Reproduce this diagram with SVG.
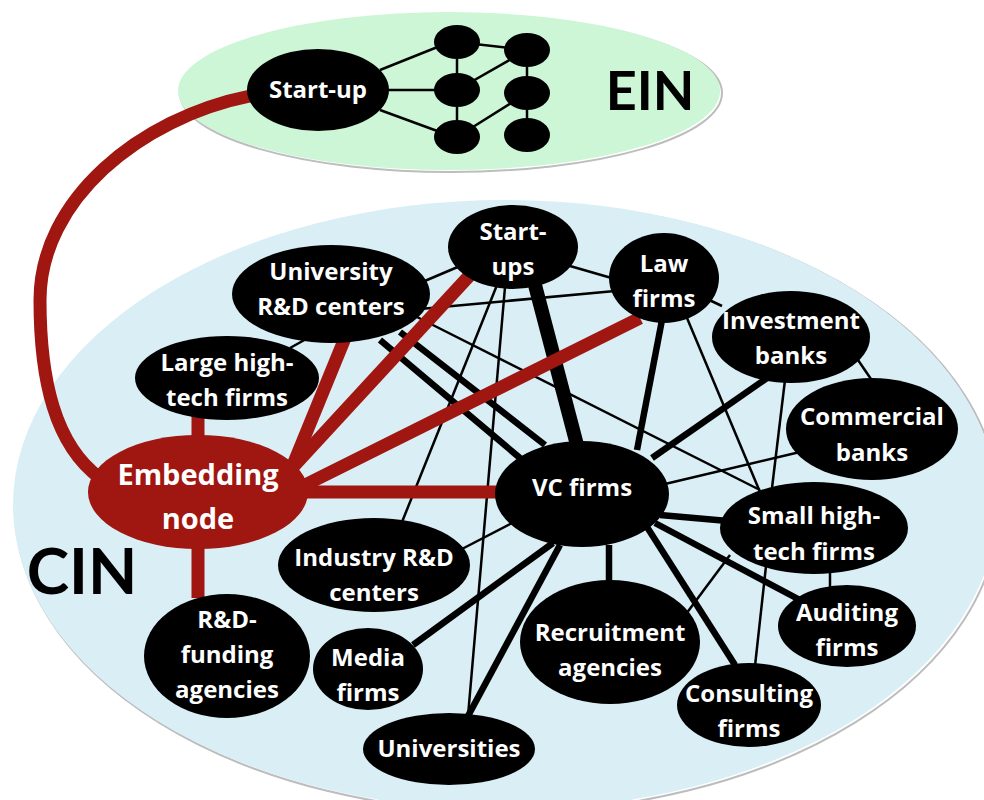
<svg xmlns="http://www.w3.org/2000/svg" width="984" height="800" viewBox="0 0 984 800">
<style>
.bg{fill:#ffffff}
.cin{fill:#d9eef5}
.ein{fill:#ccf6d6}
.shadow{fill:none;stroke:#bdbdbd;stroke-width:2}
.n{fill:#000000}
.emb{fill:#a01610}
.t{fill:#ffffff;font-family:"Open Sans",Lato,"Liberation Sans",sans-serif;font-weight:700;font-size:24px;text-anchor:middle}
.t29{font-size:29px}
.big{fill:#000000;font-family:Lato,"Open Sans","Liberation Sans",sans-serif;font-weight:700;text-anchor:middle}
.e1{stroke:#000;stroke-width:2.5;fill:none}
.e2{stroke:#000;stroke-width:6.5;fill:none}
.e3{stroke:#000;stroke-width:14;fill:none}
.r{stroke:#a01610;stroke-width:13;fill:none}
</style>
<rect class="bg" x="0" y="0" width="984" height="800"/>
<g id="cin-area">
<ellipse class="shadow" cx="507" cy="507" rx="492" ry="305"/>
<ellipse class="cin" cx="505" cy="505" rx="492" ry="305"/>
<text class="big" x="82" y="594" font-size="64">CIN</text>
</g>
<g id="ein-area">
<ellipse class="shadow" cx="451" cy="93" rx="271" ry="79"/>
<ellipse class="ein" cx="449" cy="91" rx="271" ry="79"/>
<text class="big" x="650" y="110" font-size="54">EIN</text>
</g>
<g id="connectors">
<g id="ein-edges">
<line class="e1" x1="380" y1="70" x2="440" y2="46"/>
<line class="e1" x1="385" y1="90" x2="440" y2="90"/>
<line class="e1" x1="380" y1="110" x2="440" y2="132"/>
<line class="e1" x1="457" y1="42" x2="457" y2="90"/>
<line class="e1" x1="457" y1="90" x2="457" y2="137"/>
<line class="e1" x1="457" y1="42" x2="527" y2="50"/>
<line class="e1" x1="457" y1="90" x2="527" y2="50"/>
<line class="e1" x1="527" y1="50" x2="527" y2="93"/>
<line class="e1" x1="457" y1="137" x2="527" y2="93"/>
<line class="e1" x1="527" y1="93" x2="527" y2="135"/>
</g>
<g id="cin-thin">
<line class="e1" x1="420" y1="283" x2="460" y2="266"/>
<line class="e1" x1="420" y1="309" x2="615" y2="291"/>
<line class="e1" x1="290" y1="348" x2="308" y2="338"/>
<line class="e1" x1="415" y1="316" x2="760" y2="490"/>
<line class="e1" x1="570" y1="266" x2="615" y2="279"/>
<line class="e1" x1="497" y1="285" x2="402" y2="522"/>
<line class="e1" x1="505" y1="287" x2="468" y2="716"/>
<line class="e1" x1="705" y1="298" x2="722" y2="306"/>
<line class="e1" x1="687" y1="318" x2="760" y2="492"/>
<line class="e1" x1="858" y1="360" x2="873" y2="382"/>
<line class="e1" x1="785" y1="380" x2="772" y2="488"/>
<line class="e1" x1="800" y1="452" x2="665" y2="484"/>
<line class="e1" x1="512" y1="523" x2="460" y2="550"/>
<line class="e1" x1="830" y1="570" x2="830" y2="590"/>
<line class="e1" x1="766" y1="566" x2="755" y2="666"/>
<line class="e1" x1="730" y1="555" x2="686" y2="614"/>
</g>
<g id="cin-thick">
<line class="e2" x1="380" y1="340" x2="520" y2="458"/>
<line class="e2" x1="400" y1="332" x2="545" y2="445"/>
<line class="e2" x1="662" y1="320" x2="637" y2="450"/>
<line class="e2" x1="767" y1="378" x2="652" y2="458"/>
<line class="e2" x1="660" y1="515" x2="728" y2="521"/>
<line class="e2" x1="655" y1="523" x2="800" y2="600"/>
<line class="e2" x1="647" y1="527" x2="735" y2="665"/>
<line class="e2" x1="609" y1="545" x2="609" y2="585" stroke-width="8"/>
<line class="e2" x1="553" y1="543" x2="413" y2="645"/>
<line class="e2" x1="560" y1="545" x2="468" y2="716"/>
<line class="e3" x1="535" y1="285" x2="577" y2="445"/>
</g>
<g id="red-edges">
<path class="r" d="M 250,96 C 140,118 40,200 40,300 C 40,380 55,445 100,478"/>
<line class="r" x1="198" y1="415" x2="198" y2="440"/>
<line class="r" x1="198" y1="545" x2="198" y2="598"/>
<line class="r" x1="293" y1="465" x2="345" y2="338"/>
<line class="r" x1="292" y1="468" x2="470" y2="275"/>
<line class="r" x1="305" y1="485" x2="640" y2="318"/>
<line class="r" x1="300" y1="492" x2="500" y2="492"/>
</g>
</g>
<g id="ein-startup"><ellipse class="n" cx="318" cy="90" rx="71" ry="41"/><text class="t" x="318" y="98">Start-up</text></g>
<g id="ein-n1"><ellipse class="n" cx="457" cy="42" rx="23" ry="17"/></g>
<g id="ein-n2"><ellipse class="n" cx="527" cy="50" rx="23" ry="17"/></g>
<g id="ein-n3"><ellipse class="n" cx="457" cy="90" rx="23" ry="17"/></g>
<g id="ein-n4"><ellipse class="n" cx="527" cy="93" rx="23" ry="17"/></g>
<g id="ein-n5"><ellipse class="n" cx="457" cy="137" rx="23" ry="17"/></g>
<g id="ein-n6"><ellipse class="n" cx="527" cy="135" rx="23" ry="17"/></g>

<g id="startups"><ellipse class="n" cx="513" cy="247" rx="65" ry="42"/><text class="t" x="513" y="240">Start-</text><text class="t" x="513" y="275">ups</text></g>
<g id="univ-rd"><ellipse class="n" cx="331" cy="294" rx="99" ry="49"/><text class="t" x="331" y="280">University</text><text class="t" x="331" y="315">R&amp;D centers</text></g>
<g id="law"><ellipse class="n" cx="664" cy="278" rx="55" ry="45"/><text class="t" x="664" y="272">Law</text><text class="t" x="664" y="307">firms</text></g>
<g id="investment"><ellipse class="n" cx="791" cy="337" rx="79" ry="46"/><text class="t" x="791" y="329">Investment</text><text class="t" x="791" y="364">banks</text></g>
<g id="large-hightech"><ellipse class="n" cx="227" cy="378" rx="92" ry="42"/><text class="t" x="227" y="371">Large high-</text><text class="t" x="227" y="406">tech firms</text></g>
<g id="commercial"><ellipse class="n" cx="872" cy="429" rx="86" ry="51"/><text class="t" x="872" y="425">Commercial</text><text class="t" x="872" y="461">banks</text></g>
<g id="embedding"><ellipse class="emb" cx="198" cy="492" rx="110" ry="57"/><text class="t t29" x="198" y="485">Embedding</text><text class="t t29" x="198" y="529">node</text></g>
<g id="vc"><ellipse class="n" cx="582" cy="494" rx="87" ry="53"/><text class="t" x="582" y="496">VC firms</text></g>
<g id="small-hightech"><ellipse class="n" cx="814" cy="528" rx="94" ry="46"/><text class="t" x="814" y="524">Small high-</text><text class="t" x="814" y="560">tech firms</text></g>
<g id="industry-rd"><ellipse class="n" cx="374" cy="565" rx="96" ry="47"/><text class="t" x="374" y="566">Industry R&amp;D</text><text class="t" x="374" y="601">centers</text></g>
<g id="rd-funding"><ellipse class="n" cx="227" cy="656" rx="83" ry="62"/><text class="t" x="227" y="628">R&amp;D-</text><text class="t" x="227" y="663">funding</text><text class="t" x="227" y="698">agencies</text></g>
<g id="media"><ellipse class="n" cx="368" cy="669" rx="55" ry="41"/><text class="t" x="368" y="666">Media</text><text class="t" x="368" y="701">firms</text></g>
<g id="recruitment"><ellipse class="n" cx="610" cy="642" rx="90" ry="62"/><text class="t" x="610" y="641">Recruitment</text><text class="t" x="610" y="676">agencies</text></g>
<g id="auditing"><ellipse class="n" cx="847" cy="626" rx="69" ry="41"/><text class="t" x="847" y="621">Auditing</text><text class="t" x="847" y="656">firms</text></g>
<g id="consulting"><ellipse class="n" cx="749" cy="705" rx="72" ry="42"/><text class="t" x="749" y="702">Consulting</text><text class="t" x="749" y="737">firms</text></g>
<g id="universities"><ellipse class="n" cx="449" cy="749" rx="86" ry="36"/><text class="t" x="449" y="757">Universities</text></g>
</svg>
